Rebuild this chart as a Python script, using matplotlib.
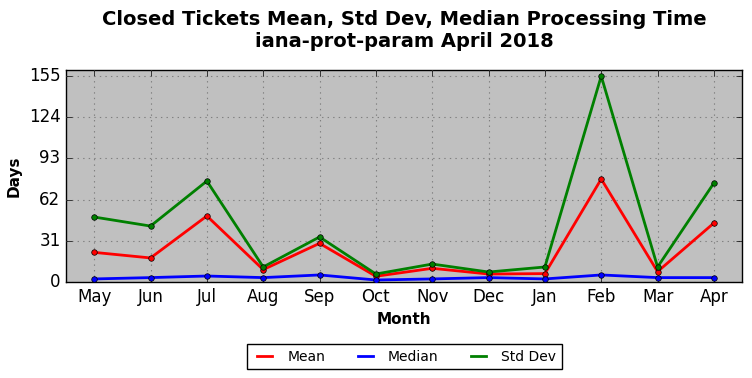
"""
Closed tickets processing time chart
"""

import numpy as np
import matplotlib
matplotlib.use("Agg")
from matplotlib import pyplot as plt
from matplotlib.lines import Line2D

months = ["May", "Jun", "Jul", "Aug", "Sep", "Oct",
          "Nov", "Dec", "Jan", "Feb", "Mar", "Apr"]
mean_days = [22.3, 18.1, 49.7, 9.3, 29.1, 4.3, 10.3, 6.0, 6.3, 77.5, 7.8, 44.4]
median_days = [2.3, 3.3, 4.5, 3.3, 5.3, 1.5, 2.3, 3.3, 2.3, 5.3, 3.3, 3.3]
std_days = [48.9, 42.1, 76.0, 11.3, 33.9, 6.0, 13.5, 7.5, 11.3, 155.0, 11.3, 74.5]

plt.style.use("classic")

fig = plt.figure(figsize=(7.52, 3.78), dpi=100)
ax = fig.add_axes([0.0878, 0.254, 0.899, 0.561])
ax.set_facecolor("#c0c0c0")

x = np.arange(len(months))
series = [(mean_days, "red", "Mean"),
          (median_days, "blue", "Median"),
          (std_days, "green", "Std Dev")]

handles = []
for vals, col, lab in series:
    ax.plot(x, vals, color=col, linewidth=2, marker="o", markersize=4,
            markeredgecolor="black", markeredgewidth=0.5, zorder=3)
    handles.append(Line2D([], [], color=col, linewidth=2, label=lab))

top = max(std_days)
ax.set_yticks(np.round(np.linspace(0, top, 6)))
ax.set_ylim(0, top * 1.03)
ax.set_xlim(-0.5, len(months) - 0.5)
ax.set_xticks(x)
ax.set_xticklabels(months)
ax.tick_params(axis="both", labelsize=12)
ax.grid(True, linestyle=":", color="gray", linewidth=0.8)

ax.set_xlabel("Month", fontsize=11, fontweight="bold")
ax.set_ylabel("Days", fontsize=11, fontweight="bold")
ax.set_title("Closed Tickets Mean, Std Dev, Median Processing Time\n"
             "iana-prot-param April 2018", fontsize=14, fontweight="bold",
             y=1.075)

fig.legend(handles=handles, loc="lower center", ncol=3, fontsize=10,
           bbox_to_anchor=(0.538, 0.005), fancybox=False, handlelength=1.7,
           columnspacing=2.0)

fig.savefig("out.png", dpi=100)
